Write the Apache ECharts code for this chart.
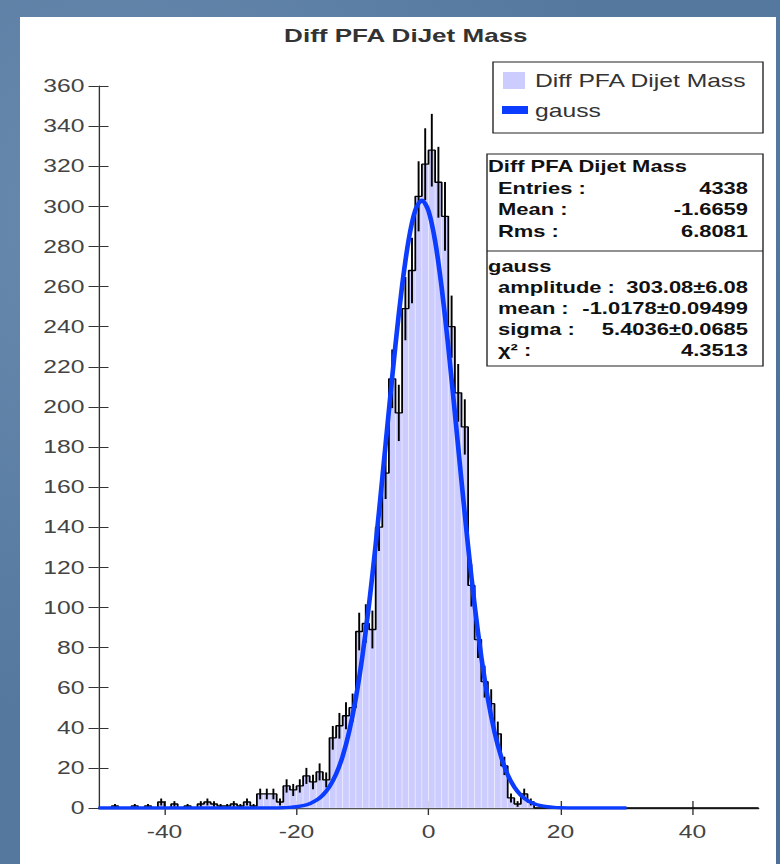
<!DOCTYPE html>
<html>
<head>
<meta charset="utf-8">
<script src="https://cdn.jsdelivr.net/npm/echarts@6/dist/echarts.min.js"></script>
<style>
html,body{margin:0;padding:0;width:780px;height:864px;overflow:hidden;}
body{position:relative;background:
 radial-gradient(ellipse at 15% 25%, rgba(130,160,195,0.45), transparent 55%),
 radial-gradient(ellipse at 85% 80%, rgba(60,90,130,0.45), transparent 55%),
 #54789e;}
#panel{position:absolute;left:20px;top:17px;width:756px;height:847px;background:#ffffff;}
#chart{position:absolute;left:0;top:0;width:569px;height:864px;transform:scaleX(1.370826);transform-origin:0 0;}
</style>
</head>
<body>
<div id="panel"></div>
<div id="chart"></div>
<script>
// ---------------- data ----------------
const binStart = -50;
const binWidth = 1;
// counts per bin, bins [-50,-49) ... [49,50)
const counts = [
  0, 0, 1, 0, 0, 1, 0, 1, 0, 3,      // -50 .. -41
  0, 2, 0, 1, 0, 2, 3, 2, 1, 1,      // -40 .. -31
  2, 1, 3, 1, 7, 7, 7, 3, 11, 9,     // -30 .. -21
  11, 16, 13, 18, 14, 35, 41, 46, 50, 88, // -20 .. -11
  92, 89, 140, 167, 214, 197, 249, 268, 305, 321, // -10 .. -1
  328, 312, 295, 240, 207, 190, 111, 84, 63, 52,  // 0 .. 9
  37, 21, 5, 2, 7, 3, 0, 0, 0, 0,    // 10 .. 19
  0, 0, 0, 0, 0, 0, 0, 0, 0, 0,      // 20 .. 29
  0, 0, 0, 0, 0, 0, 0, 0, 0, 0,      // 30 .. 39
  0, 0, 0, 0, 0, 0, 0, 0, 0, 0       // 40 .. 49
];
// fitted gauss curve
const gaussX = [-50, -25, -22, -21, -20, -19, -18, -17, -16, -15, -14, -13, -12, -11, -10, -9, -8, -7, -6, -5, -4, -3, -2, -1,
                0, 1, 2, 3, 4, 5, 6, 7, 8, 9, 10, 11, 12, 13, 14, 15, 16, 17, 18, 19, 20, 22, 30];
const gaussY = [0, 0, 0.16, 0.33, 0.63, 1.19, 2.17, 3.82, 6.49, 10.66, 16.9, 25.9, 38.4, 55.0, 76.1, 101.8, 131.5, 164.3, 198.2, 231.1, 260.3, 283.4, 298.1, 303.1,
                297.7, 282.7, 259.3, 229.9, 196.9, 163.0, 130.4, 100.8, 75.3, 54.4, 37.9, 25.6, 16.6, 10.5, 6.37, 3.75, 2.13, 1.17, 0.62, 0.32, 0.16, 0.03, 0];
const xTicks = [-40, -20, 0, 20, 40];
const titleText = 'Diff PFA DiJet Mass';
const histName = 'Diff PFA Dijet Mass';
const fitName = 'gauss';
const histStats = [['Entries :', '4338'], ['Mean :', '-1.6659'], ['Rms :', '6.8081']];
const fitStats = [['amplitude :', '303.08±6.08'], ['mean :', '-1.0178±0.09499'], ['sigma :', '5.4036±0.0685'], ['χ² :', '4.3513']];

// ---------------- layout helpers ----------------
const S = 780 / 569;           // horizontal stretch of the page
const X = px => px / S;        // target pixel -> chart pixel
const FONT = "'Liberation Sans', Arial, sans-serif";
const HIST_FILL = '#ccccff';
const BLUE = '#0b3cff';

const fillData = counts.map((c, i) => [binStart + i * binWidth, binStart + (i + 1) * binWidth, c]);
const outlineData = counts.map((c, i) => [binStart + i * binWidth, c]);
outlineData.push([binStart + counts.length * binWidth, counts[counts.length - 1]]);
const errData = [];
counts.forEach((c, i) => {
  if (c > 0) {
    const e = Math.sqrt(c);
    errData.push([binStart + (i + 0.5) * binWidth, c - e, c + e]);
  }
});
const gaussData = gaussX.map((x, i) => [x, gaussY[i]]);

// ---------------- graphics: legend + stats box ----------------
const graphics = [];
// legend box
graphics.push({type:'rect', shape:{x:X(493), y:62, width:X(763-493), height:71}, style:{fill:'#fff', stroke:'#222', lineWidth:1}, z:10});
graphics.push({type:'rect', shape:{x:X(503), y:72, width:X(22), height:17}, style:{fill:HIST_FILL}, z:11});
graphics.push({type:'text', x:X(535), y:81, style:{text:histName, font:'18px ' + FONT, fill:'#333', textVerticalAlign:'middle'}, z:11});
graphics.push({type:'rect', shape:{x:X(502), y:106, width:X(26), height:8}, style:{fill:BLUE}, z:11});
graphics.push({type:'text', x:X(535), y:111, style:{text:fitName, font:'18px ' + FONT, fill:'#333', textVerticalAlign:'middle'}, z:11});
// stats box
graphics.push({type:'rect', shape:{x:X(487), y:154, width:X(763-487), height:212}, style:{fill:'#fff', stroke:'#222', lineWidth:1}, z:10});
graphics.push({type:'line', shape:{x1:X(487), y1:251, x2:X(763), y2:251}, style:{stroke:'#222', lineWidth:1}, z:11});
const bold = 'bold 16px ' + FONT;
const VX = 748;
graphics.push({type:'text', x:X(488), y:167, style:{text:histName, font:bold, fill:'#111', textVerticalAlign:'middle'}, z:11});
const histRowsY = [189, 210, 232];
histStats.forEach((r, i) => {
  graphics.push({type:'text', x:X(498), y:histRowsY[i], style:{text:r[0], font:bold, fill:'#111', textVerticalAlign:'middle'}, z:11});
  graphics.push({type:'text', x:X(VX), y:histRowsY[i], style:{text:r[1], font:bold, fill:'#111', textAlign:'right', textVerticalAlign:'middle'}, z:11});
});
graphics.push({type:'text', x:X(488), y:267, style:{text:fitName, font:bold, fill:'#111', textVerticalAlign:'middle'}, z:11});
const fitRowsY = [288, 309, 330, 351];
fitStats.forEach((r, i) => {
  graphics.push({type:'text', x:X(498), y:fitRowsY[i], style:{text:r[0], font:bold, fill:'#111', textVerticalAlign:'middle'}, z:11});
  graphics.push({type:'text', x:X(VX), y:fitRowsY[i], style:{text:r[1], font:bold, fill:'#111', textAlign:'right', textVerticalAlign:'middle'}, z:11});
});

// ---------------- chart ----------------
const chart = echarts.init(document.getElementById('chart'), null, {renderer:'svg'});
const axisColor = '#333';
const option = {
  animation: false,
  backgroundColor: 'transparent',
  title: {
    text: titleText, left: X(399), top: 21, textAlign: 'center',
    textStyle: {fontSize: 19, fontWeight: 'bold', color: '#333', fontFamily: FONT}
  },
  grid: {left: X(98.5), right: X(780 - 758.5), top: 86, bottom: 56},
  xAxis: [
    {type:'value', min:-50, max:50, interval:10, position:'bottom',
     axisLine:{show:true, onZero:false, lineStyle:{color:axisColor, width:1.3}},
     axisTick:{show:true, length:7, customValues:xTicks, lineStyle:{color:axisColor, width:1}},
     axisLabel:{customValues:xTicks, fontSize:18, color:'#444', margin:15, fontFamily:FONT},
     splitLine:{show:false}},
    {type:'value', min:-50, max:50, interval:10, position:'bottom',
     axisLine:{show:false, onZero:false}, axisLabel:{show:false}, splitLine:{show:false},
     axisTick:{show:true, inside:true, length:7, customValues:xTicks, lineStyle:{color:axisColor, width:1}}}
  ],
  yAxis: [
    {type:'value', min:0, max:360, interval:20, position:'left',
     axisLine:{show:true, onZero:false, lineStyle:{color:axisColor, width:1}},
     axisTick:{show:true, length:X(10), lineStyle:{color:axisColor, width:1}},
     axisLabel:{fontSize:18, color:'#444', margin:X(14), fontFamily:FONT},
     splitLine:{show:false}},
    {type:'value', min:0, max:360, interval:20, position:'left',
     axisLine:{show:false, onZero:false}, axisLabel:{show:false}, splitLine:{show:false},
     axisTick:{show:true, inside:true, length:X(10), lineStyle:{color:axisColor, width:1}}}
  ],
  series: [
    {name: histName, type:'custom', z:1, silent:true,
     data: fillData, encode:{x:[0,1], y:2},
     renderItem: (params, api) => {
       const c = api.value(2);
       if (c <= 0) return null;
       const p0 = api.coord([api.value(0), c]);
       const p1 = api.coord([api.value(1), 0]);
       return {type:'rect', shape:{x:p0[0], y:p0[1], width:p1[0]-p0[0], height:p1[1]-p0[1]},
               style:{fill:HIST_FILL, stroke:'rgba(255,255,255,0.55)', lineWidth:0.5}};
     }},
    {name: histName + ' outline', type:'line', step:'end', z:2, silent:true,
     data: outlineData, symbol:'none',
     lineStyle:{color:'#000', width:1.3}},
    {name: histName + ' errors', type:'custom', z:3, silent:true,
     data: errData, encode:{x:0, y:[1,2]},
     renderItem: (params, api) => {
       const a = api.coord([api.value(0), api.value(1)]);
       const b = api.coord([api.value(0), api.value(2)]);
       return {type:'line', shape:{x1:a[0], y1:a[1], x2:b[0], y2:b[1]}, style:{stroke:'#000', lineWidth:1.4}};
     }},
    {name: fitName, type:'line', z:4, silent:true, smooth:0.3,
     data: gaussData, symbol:'none',
     lineStyle:{color:BLUE, width:3.4}}
  ],
  graphic: graphics
};
chart.setOption(option);
</script>
</body>
</html>
